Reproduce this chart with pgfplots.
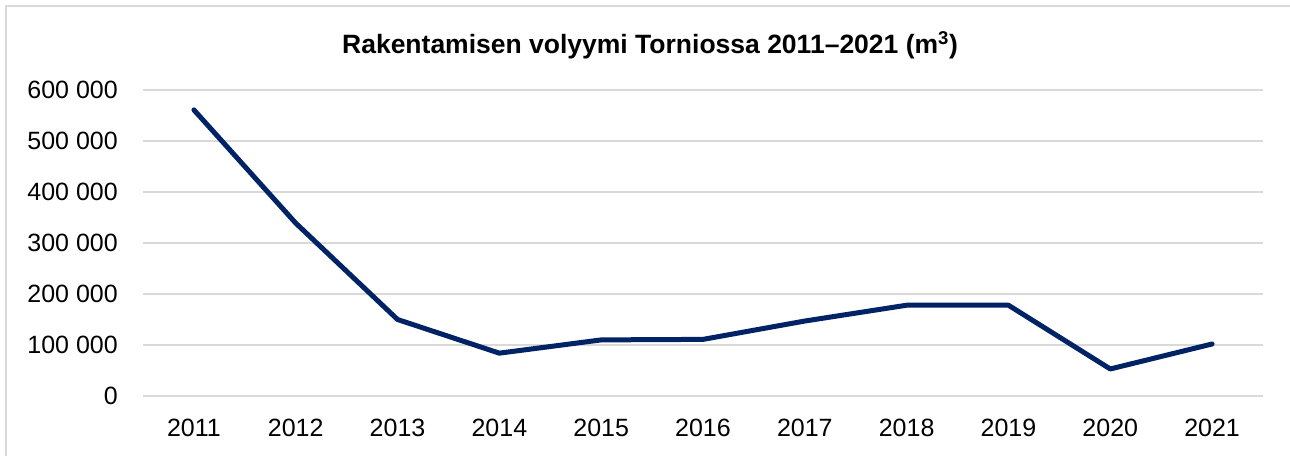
\documentclass[border=0pt]{standalone}
\usepackage{pgfplots}
\pgfplotsset{compat=1.18}
\usepackage{fontspec}
\setmainfont{Liberation Sans}
\definecolor{linecol}{RGB}{0,35,102}
\definecolor{gridcol}{RGB}{217,217,217}
\begin{document}
\begin{tikzpicture}[x=1pt,y=1pt]
\useasboundingbox (0,0) rectangle (1290,455);
\fill[white] (0,0) rectangle (1290,455);
\draw[gridcol,line width=2pt] (6,-5) -- (6,449) -- (1300,449);
\node[font=\bfseries\fontsize{26.5}{31}\selectfont] at (650,410) {Rakentamisen volyymi Torniossa 2011–2021 (m\textsuperscript{3})};
\begin{axis}[
  at={(143pt,59pt)}, anchor=south west,
  scale only axis, width=1120pt, height=306pt,
  xmin=-0.5, xmax=10.5, ymin=0, ymax=600000,
  axis line style={draw=none},
  major tick length=0pt,
  scaled y ticks=false,
  xtick={0,...,10},
  xticklabels={2011,2012,2013,2014,2015,2016,2017,2018,2019,2020,2021},
  ytick={0,100000,200000,300000,400000,500000,600000},
  yticklabels={0,100 000,200 000,300 000,400 000,500 000,600 000},
  ymajorgrids, grid style={gridcol,line width=1.5pt},
  tick label style={font=\fontsize{25}{30}\selectfont, inner sep=0pt},
  yticklabel style={anchor=east, xshift=-25pt},
  xticklabel style={anchor=north, yshift=-23pt},
  clip=false,
]
\addplot[linecol, line width=5pt, line join=round, line cap=round] coordinates {
(0,561000) (1,339000) (2,150000) (3,84000) (4,110000) (5,111000) (6,147000) (7,178000) (8,178000) (9,53000) (10,102000)
};
\end{axis}
\end{tikzpicture}
\end{document}
